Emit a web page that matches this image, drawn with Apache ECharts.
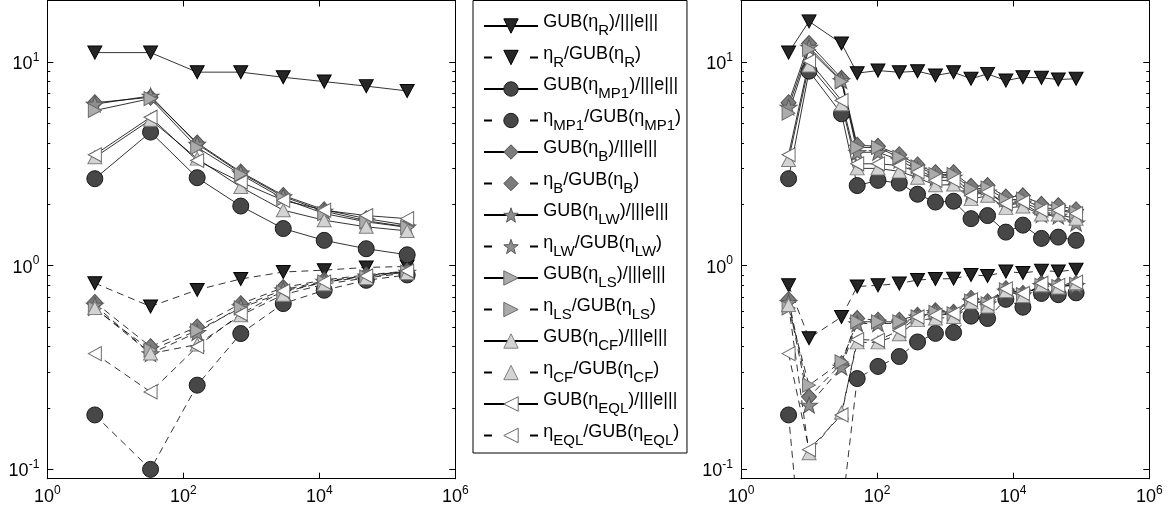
<!DOCTYPE html>
<html>
<head>
<meta charset="utf-8">
<script src="https://cdn.jsdelivr.net/npm/echarts@6/dist/echarts.min.js"></script>
<style>
html,body{margin:0;padding:0;background:#fff;}
#c{width:1174px;height:518px;}
</style>
</head>
<body>
<div id="c"></div>
<script>
// ---------- DATA ----------
const xLeft = [5, 33, 160, 700, 2950, 11800, 49000, 196000];
const xRight = [5, 10, 30, 51, 103, 212, 393, 720, 1330, 2400, 4200, 7800, 13900, 26000, 46000, 84000];

const seriesNames = [
  'GUB(η_R)/|||e|||', 'η_R/GUB(η_R)',
  'GUB(η_MP1)/|||e|||', 'η_MP1/GUB(η_MP1)',
  'GUB(η_B)/|||e|||', 'η_B/GUB(η_B)',
  'GUB(η_LW)/|||e|||', 'η_LW/GUB(η_LW)',
  'GUB(η_LS)/|||e|||', 'η_LS/GUB(η_LS)',
  'GUB(η_CF)/|||e|||', 'η_CF/GUB(η_CF)',
  'GUB(η_EQL)/|||e|||', 'η_EQL/GUB(η_EQL)'
];

// left panel
const L_R_gub   = [11.1, 11.1, 8.9, 8.9, 8.4, 8.0, 7.6, 7.2];
const L_R_eff   = [0.82, 0.63, 0.76, 0.86, 0.93, 0.95, 0.98, 0.99];
const L_MP1_gub = [2.67, 4.52, 2.70, 1.96, 1.52, 1.33, 1.21, 1.13];
const L_MP1_eff = [0.185, 0.100, 0.259, 0.464, 0.651, 0.757, 0.847, 0.90];
const L_B_gub   = [6.3, 6.7, 4.0, 2.88, 2.21, 1.88, 1.70, 1.58];
const L_B_eff   = [0.66, 0.40, 0.50, 0.65, 0.78, 0.85, 0.90, 0.94];
const L_LW_gub  = [6.2, 6.8, 3.95, 2.85, 2.18, 1.85, 1.66, 1.55];
const L_LW_eff  = [0.64, 0.37, 0.47, 0.63, 0.76, 0.84, 0.89, 0.93];
const L_LS_gub  = [5.77, 6.6, 3.8, 2.8, 2.13, 1.80, 1.64, 1.54];
const L_LS_eff  = [0.615, 0.385, 0.48, 0.62, 0.74, 0.83, 0.88, 0.93];
const L_CF_gub  = [3.4, 5.2, 3.35, 2.43, 1.87, 1.67, 1.55, 1.48];
const L_CF_eff  = [0.62, 0.37, 0.41, 0.57, 0.72, 0.81, 0.87, 0.92];
const L_EQL_gub = [3.5, 5.35, 3.28, 2.57, 2.09, 1.87, 1.76, 1.70];
const L_EQL_eff = [0.37, 0.24, 0.40, 0.58, 0.75, 0.83, 0.89, 0.94];

// right panel
const R_R_gub   = [11.1, 15.8, 12.3, 8.8, 9.06, 8.89, 8.99, 8.57, 8.89, 8.26, 8.73, 8.09, 8.4, 8.35, 8.19, 8.26];
const R_R_eff   = [0.80, 0.44, 0.56, 0.79, 0.80, 0.816, 0.85, 0.86, 0.863, 0.90, 0.89, 0.935, 0.92, 0.945, 0.935, 0.955];
const R_MP1_gub = [2.67, 9.0, 5.56, 2.47, 2.62, 2.54, 2.24, 2.05, 2.07, 1.70, 1.76, 1.46, 1.58, 1.36, 1.38, 1.33];
const R_MP1_eff = [0.185, 0.015, 0.06, 0.279, 0.32, 0.358, 0.422, 0.465, 0.47, 0.565, 0.55, 0.683, 0.625, 0.73, 0.72, 0.735];
const R_B_gub   = [6.3, 12.3, 8.3, 3.9, 3.85, 3.5, 3.12, 2.86, 2.86, 2.45, 2.47, 2.17, 2.2, 2.0, 1.97, 1.88];
const R_B_eff   = [0.68, 0.227, 0.33, 0.55, 0.54, 0.54, 0.57, 0.60, 0.59, 0.69, 0.665, 0.77, 0.73, 0.816, 0.80, 0.816];
const R_LW_gub  = [6.0, 11.8, 8.1, 3.6, 3.6, 3.3, 2.95, 2.7, 2.72, 2.28, 2.3, 1.98, 2.03, 1.78, 1.75, 1.62];
const R_LW_eff  = [0.66, 0.207, 0.318, 0.52, 0.52, 0.52, 0.56, 0.59, 0.58, 0.67, 0.65, 0.75, 0.72, 0.80, 0.79, 0.80];
const R_LS_gub  = [5.6, 11.5, 8.0, 3.8, 3.8, 3.4, 3.05, 2.8, 2.8, 2.38, 2.4, 2.1, 2.12, 1.92, 1.9, 1.82];
const R_LS_eff  = [0.62, 0.259, 0.337, 0.53, 0.53, 0.53, 0.56, 0.59, 0.58, 0.67, 0.65, 0.76, 0.72, 0.80, 0.79, 0.81];
const R_CF_gub  = [3.3, 9.6, 6.2, 3.0, 3.0, 2.9, 2.7, 2.48, 2.5, 2.12, 2.2, 1.92, 1.95, 1.78, 1.78, 1.70];
const R_CF_eff  = [0.64, 0.12, 0.19, 0.42, 0.42, 0.46, 0.54, 0.55, 0.56, 0.66, 0.63, 0.75, 0.71, 0.80, 0.78, 0.82];
const R_EQL_gub = [3.5, 10.1, 6.46, 3.16, 3.16, 3.1, 2.88, 2.62, 2.62, 2.21, 2.30, 2.01, 2.05, 1.87, 1.87, 1.80];
const R_EQL_eff = [0.37, 0.125, 0.185, 0.434, 0.43, 0.48, 0.56, 0.57, 0.58, 0.68, 0.65, 0.77, 0.73, 0.82, 0.80, 0.83];

const xTickValues = [1, 100, 10000, 1000000];
const yTickValues = [0.1, 1, 10];
const yMinorValues = [0.2,0.3,0.4,0.5,0.6,0.7,0.8,0.9,2,3,4,5,6,7,8,9];

// ---------- STYLE ----------
const STAR = 'path://M0,-10L2.35,-3.24L9.51,-3.09L3.8,1.24L5.88,8.09L0,4L-5.88,8.09L-3.8,1.24L-9.51,-3.09L-2.35,-3.24Z';
const markers = [
  {symbol:'triangle', rotate:180, size:[14,13], fill:'#262626', edge:'#000'},
  {symbol:'circle', rotate:0, size:16, fill:'#474747', edge:'#1a1a1a'},
  {symbol:'diamond', rotate:0, size:[15,16], fill:'#7c7c7c', edge:'#505050'},
  {symbol:STAR, rotate:0, size:[17,16], fill:'#8e8e8e', edge:'#5a5a5a'},
  {symbol:'triangle', rotate:-90, size:[14,13], fill:'#ababab', edge:'#6a6a6a'},
  {symbol:'triangle', rotate:0, size:[14,13], fill:'#d3d3d3', edge:'#808080'},
  {symbol:'triangle', rotate:90, size:[14,13], fill:'#ffffff', edge:'#666666'}
];
const FONT = 'Liberation Sans, Arial, Helvetica, sans-serif';

const leftSets = [[L_R_gub,L_R_eff],[L_MP1_gub,L_MP1_eff],[L_B_gub,L_B_eff],[L_LW_gub,L_LW_eff],[L_LS_gub,L_LS_eff],[L_CF_gub,L_CF_eff],[L_EQL_gub,L_EQL_eff]];
const rightSets = [[R_R_gub,R_R_eff],[R_MP1_gub,R_MP1_eff],[R_B_gub,R_B_eff],[R_LW_gub,R_LW_eff],[R_LS_gub,R_LS_eff],[R_CF_gub,R_CF_eff],[R_EQL_gub,R_EQL_eff]];

function mkSeries(xs, vals, k, dashed, xi, yi) {
  const m = markers[k];
  return {
    type:'line', name: seriesNames[2*k + (dashed?1:0)],
    xAxisIndex: xi, yAxisIndex: yi,
    data: xs.map((x,i)=>[x, vals[i]]),
    symbol: m.symbol, symbolRotate: m.rotate, symbolSize: m.size,
    showAllSymbol: true, clip: true, animation:false, silent:true,
    lineStyle: {color:'#000', width:0.8, type: dashed ? [7,5] : 'solid'},
    itemStyle: {color: m.fill, borderColor: m.edge, borderWidth: 1, opacity:1},
    emphasis: {disabled:true}
  };
}

const series = [];
[[xLeft,leftSets,0,0],[xRight,rightSets,2,4]].forEach(([xs,sets,xi,yi])=>{
  sets.forEach((pair,k)=>{
    series.push(mkSeries(xs, pair[0], k, false, xi, yi));
    series.push(mkSeries(xs, pair[1], k, true, xi, yi));
  });
});

const rich = {
  m: {fontSize:18, fontFamily:FONT, color:'#000', lineHeight:21, padding:[4,0,0,0]},
  p: {fontSize:12, fontFamily:FONT, color:'#000', lineHeight:12, verticalAlign:'top'}
};
function powLabel(v) {
  const e = Math.round(Math.log10(v));
  return '{m|10}{p|' + (e < 0 ? '-' + (-e) : e) + '}';
}
const axLine = {show:true, onZero:false, lineStyle:{color:'#000', width:1}};

function xAx(grid, pos, labels) {
  return {
    type:'log', logBase:10, gridIndex:grid, position:pos, min:1, max:1000000,
    axisLine: axLine,
    axisTick: {show:true, inside:true, length:6, customValues:xTickValues, lineStyle:{color:'#000', width:1}},
    axisLabel: labels ? {show:true, customValues:xTickValues, formatter:powLabel, rich:rich, margin:6, showMinLabel:true, showMaxLabel:true} : {show:false},
    splitLine:{show:false}, minorTick:{show:false}
  };
}
function yAx(grid, pos, vals, len, labels) {
  return {
    type:'log', logBase:10, gridIndex:grid, position:pos, min:0.09, max:20,
    axisLine: axLine,
    axisTick: {show:true, inside:true, length:len, customValues:vals, lineStyle:{color:'#000', width:1}},
    axisLabel: labels ? {show:true, customValues:vals, formatter:powLabel, rich:rich, margin:8, align:'right'} : {show:false},
    splitLine:{show:false}, minorTick:{show:false}
  };
}

function legendFmt(name) {
  const parts = name.split(/_([A-Z0-9]+)/);
  let s = '{z| }';
  parts.forEach((p,i)=>{ if (p) s += '{' + (i%2 ? 's' : 't') + '|' + p + '}'; });
  return s;
}

const legendData = seriesNames.map((n,i)=> i%2 ? {name:n, lineStyle:{type:[8,38]}} : {name:n});

const option = {
  animation:false,
  backgroundColor:'#fff',
  grid: [
    {left:47.3, top:0.5, width:408, height:478.2, containLabel:false},
    {left:741, top:0.5, width:408.3, height:478.2, containLabel:false}
  ],
  xAxis: [xAx(0,'bottom',true), xAx(0,'top',false), xAx(1,'bottom',true), xAx(1,'top',false)],
  yAxis: [
    yAx(0,'left',yTickValues,6,true), yAx(0,'left',yMinorValues,3,false),
    yAx(0,'right',yTickValues,6,false), yAx(0,'right',yMinorValues,3,false),
    yAx(1,'left',yTickValues,6,true), yAx(1,'left',yMinorValues,3,false),
    yAx(1,'right',yTickValues,6,false), yAx(1,'right',yMinorValues,3,false)
  ],
  legend: {
    data: legendData, orient:'vertical', left:473, top:0.5,
    itemWidth:54, itemHeight:18, itemGap:6.5,
    padding:[13,6,5,10],
    backgroundColor:'#fff', borderColor:'#000', borderWidth:1, borderRadius:0,
    selectedMode:false,
    itemStyle:{borderWidth:1},
    formatter: legendFmt,
    textStyle: {
      fontFamily:FONT, fontSize:18, color:'#000',
      rich: {
        z: {fontFamily:FONT, fontSize:1, lineHeight:25, verticalAlign:'top'},
        t: {fontFamily:FONT, fontSize:18, color:'#000', lineHeight:21, verticalAlign:'top'},
        s: {fontFamily:FONT, fontSize:15, color:'#000', lineHeight:15, verticalAlign:'bottom'}
      }
    }
  },
  series: series
};

const chart = echarts.init(document.getElementById('c'), null, {renderer:'canvas'});
chart.setOption(option);
</script>
</body>
</html>
